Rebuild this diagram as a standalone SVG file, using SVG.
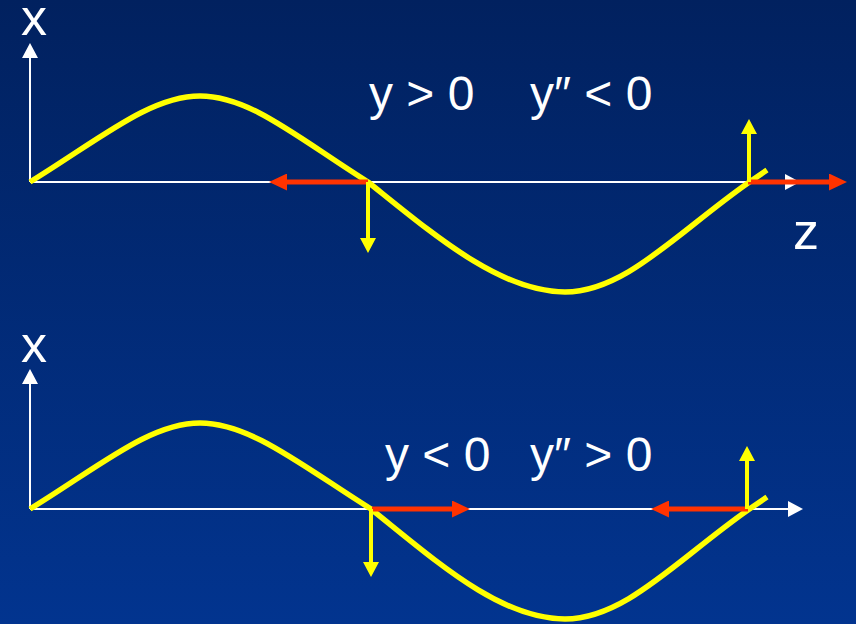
<svg xmlns="http://www.w3.org/2000/svg" width="856" height="624" viewBox="0 0 856 624">
<style>
.lbl{font-family:"Liberation Sans",Arial,sans-serif;fill:#ffffff}
.ax{font-size:52px;text-anchor:middle}
.eq{font-size:48px}
.axis{stroke:#ffffff;stroke-width:2;fill:none;marker-end:url(#hw)}
.wave{stroke:#ffff00;stroke-width:5.5;fill:none;stroke-linejoin:round}
.red{stroke:#ff3300;stroke-width:5;fill:none;marker-end:url(#hr)}
.yel{stroke:#ffff00;stroke-width:4;fill:none;marker-end:url(#hy)}
</style>
<defs>
<linearGradient id="bg" x1="0" y1="0" x2="0" y2="1">
<stop offset="0" stop-color="#01215f"/>
<stop offset="1" stop-color="#02348f"/>
</linearGradient>
<marker id="hw" markerUnits="userSpaceOnUse" markerWidth="15" markerHeight="16" refX="0" refY="8" orient="auto"><path d="M0,0L15,8L0,16z" fill="#ffffff"/></marker>
<marker id="hr" markerUnits="userSpaceOnUse" markerWidth="18" markerHeight="17" refX="0" refY="8.5" orient="auto"><path d="M0,0L18,8.5L0,17z" fill="#ff3300"/></marker>
<marker id="hy" markerUnits="userSpaceOnUse" markerWidth="15" markerHeight="16" refX="0" refY="8" orient="auto"><path d="M0,0L15,8L0,16z" fill="#ffff00"/></marker>
</defs>
<rect x="0" y="0" width="856" height="624" fill="url(#bg)"/>

<g id="top-panel">
<g id="top-axes">
<line class="axis" x1="30" y1="182" x2="30" y2="58"/>
<line class="axis" x1="30" y1="182" x2="785" y2="182"/>
<text class="lbl ax" x="34" y="35">x</text>
<text class="lbl ax" x="806" y="249">z</text>
</g>
<path id="top-wave" class="wave" d="M30,182 C100,139 150,96 200,96 C250,96 298,138 368,182 C433,234 500,292 565,292 C625,292 678,232 748,183 L767,170"/>
<g id="top-connectors">
<line class="red" x1="368" y1="182" x2="287" y2="182"/>
<line class="red" x1="748" y1="182" x2="829" y2="182"/>
<line class="yel" x1="368" y1="182" x2="368" y2="238"/>
<line class="yel" x1="749" y1="182" x2="749" y2="134"/>
</g>
<g id="top-labels">
<text class="lbl eq" x="369" y="110">y &gt; 0</text>
<text class="lbl eq" x="530" y="110">y″ &lt; 0</text>
</g>
</g>

<g id="bottom-panel">
<g id="bottom-axes">
<line class="axis" x1="30" y1="509" x2="30" y2="384"/>
<line class="axis" x1="30" y1="509" x2="788" y2="509"/>
<text class="lbl ax" x="34" y="362">x</text>
</g>
<path id="bottom-wave" class="wave" transform="translate(0,327)" d="M30,182 C100,139 150,96 200,96 C250,96 301,138 371,182 C436,234 500,292 565,292 C625,292 678,232 748,183 L767,170"/>
<g id="bottom-connectors">
<line class="red" x1="372" y1="509" x2="452" y2="509"/>
<line class="red" x1="748" y1="509" x2="669" y2="509"/>
<line class="yel" x1="371" y1="509" x2="371" y2="562"/>
<line class="yel" x1="747" y1="509" x2="747" y2="461"/>
</g>
<g id="bottom-labels">
<text class="lbl eq" x="385" y="471">y &lt; 0</text>
<text class="lbl eq" x="530" y="471">y″ &gt; 0</text>
</g>
</g>
</svg>
